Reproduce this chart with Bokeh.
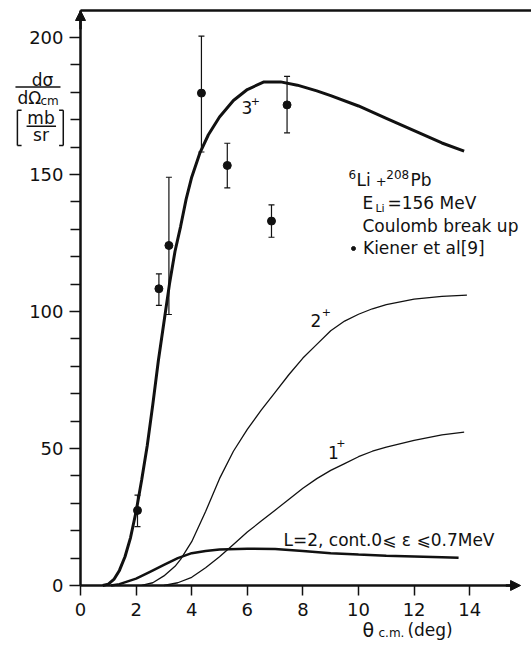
from bokeh.plotting import figure
from bokeh.models import (Range1d, FixedTicker, Label, Whisker, TeeHead, Arrow, LinearAxis,
                          NormalHead, ColumnDataSource, Legend, LegendItem)
from bokeh.embed import file_html
from bokeh.resources import INLINE

# ---------------- data ----------------
theta_3p = [0.8, 1.0, 1.2, 1.4, 1.6, 1.8, 2.0, 2.2, 2.4, 2.6, 2.8, 3.0, 3.2, 3.4, 3.6, 3.8,
            4.0, 4.3, 4.6, 5.0, 5.5, 6.0, 6.6, 7.2, 7.8, 8.5, 9.0, 10.0, 11.0, 12.0, 13.0, 13.8]
sigma_3p = [0.0, 0.5, 2.2, 5.5, 10.5, 17.5, 27.0, 38.5, 51.0, 66.0, 82.0, 96.0, 110.0, 122.0, 131.0, 141.0,
            149.0, 158.0, 164.5, 171.0, 177.0, 181.0, 183.8, 183.8, 182.6, 180.5, 178.8, 175.0, 170.5, 166.0, 161.5, 158.5]

theta_2p = [2.2, 2.6, 3.0, 3.4, 3.6, 4.0, 4.5, 5.0, 5.5, 6.0, 6.5, 7.0, 7.5, 8.0, 8.5, 9.0,
            9.5, 10.0, 10.5, 11.0, 12.0, 13.0, 13.9]
sigma_2p = [0.0, 1.0, 3.5, 7.0, 9.5, 16.0, 27.0, 39.0, 49.0, 57.0, 64.0, 70.5, 77.0, 83.0, 88.0, 93.0,
            96.5, 99.0, 101.0, 102.5, 104.5, 105.5, 106.0]

theta_1p = [3.0, 3.5, 4.0, 4.5, 5.0, 5.5, 6.0, 6.5, 7.0, 7.5, 8.0, 8.5, 9.0, 9.5, 10.0, 10.5,
            11.0, 12.0, 13.0, 13.8]
sigma_1p = [0.0, 1.0, 3.0, 6.5, 10.5, 15.0, 19.5, 23.5, 27.5, 31.5, 35.5, 39.0, 42.0, 44.5, 47.0, 49.0,
            50.5, 53.0, 55.0, 56.0]

theta_L2 = [1.1, 1.4, 2.0, 2.5, 3.0, 3.5, 4.0, 4.5, 5.0, 6.0, 7.0, 8.0, 9.0, 10.0, 11.0, 12.0, 13.0, 13.6]
sigma_L2 = [0.0, 0.5, 2.5, 5.0, 7.5, 10.0, 11.8, 12.6, 13.1, 13.4, 13.3, 12.6, 11.8, 11.3, 10.9, 10.6, 10.3, 10.1]

exp_theta = [2.05, 2.82, 3.18, 4.35, 5.28, 6.87, 7.43]
exp_sigma = [27.4, 108.3, 124.1, 179.7, 153.3, 133.0, 175.4]
exp_upper = [33.0, 113.7, 149.0, 200.5, 161.4, 138.9, 185.8]
exp_lower = [21.5, 102.2, 98.9, 158.2, 145.1, 127.1, 165.2]

x_ticks = [0, 2, 4, 6, 8, 10, 12, 14]
y_ticks = [0, 50, 100, 150, 200]
y_minor = [10, 20, 30, 40, 60, 70, 80, 90, 110, 120, 130, 140, 160, 170, 180, 190]

FONT = "DejaVu Sans"
INK = "#111111"
PX_PER_Y = 2.74  # screen pixels per y unit (used only to nudge text baselines)

# the frame covers the whole canvas; the axes are pinned at x=0 / y=0
p = figure(width=531, height=645, x_range=Range1d(-2.878, 16.223), y_range=Range1d(-21.9, 213.5),
           output_backend="svg", toolbar_location=None,
           min_border_left=0, min_border_right=0, min_border_top=0, min_border_bottom=0)
p.outline_line_color = None
p.xgrid.grid_line_color = None
p.ygrid.grid_line_color = None
p.background_fill_color = "white"
p.border_fill_color = "white"

for ax in (p.xaxis[0], p.yaxis[0]):
    ax.fixed_location = 0
    ax.axis_line_width = 2.5
    ax.axis_line_color = INK
    ax.major_tick_line_width = 1.5
    ax.minor_tick_line_width = 1.5
    ax.major_tick_line_color = INK
    ax.minor_tick_line_color = INK
    ax.major_tick_in = 0
    ax.minor_tick_in = 0
    ax.major_label_text_font = FONT
    ax.major_label_text_font_size = "18px"
    ax.major_label_text_color = INK

p.xaxis.bounds = (0, 15.6)
p.xaxis.ticker = FixedTicker(ticks=x_ticks, minor_ticks=[])
p.xaxis.major_tick_out = 10
p.xaxis.major_label_standoff = 8
p.yaxis.bounds = (0, 209.85)
p.yaxis.ticker = FixedTicker(ticks=y_ticks, minor_ticks=y_minor)
p.yaxis.major_tick_out = 11
p.yaxis.minor_tick_out = 10
p.yaxis.major_label_standoff = 6

# top frame line
top = LinearAxis(fixed_location=209.85, bounds=(0, 16.3), ticker=FixedTicker(ticks=[], minor_ticks=[]),
                 axis_line_width=2.5, axis_line_color=INK,
                 major_tick_line_color=None, minor_tick_line_color=None, major_label_text_color=None)
p.add_layout(top, "above")

# axis arrows
p.add_layout(Arrow(end=NormalHead(size=10, fill_color=INK, line_color=INK), line_color=INK, line_width=2.5,
                   x_start=0, y_start=203, x_end=0, y_end=209.85))
p.add_layout(Arrow(end=NormalHead(size=10, fill_color=INK, line_color=INK), line_color=INK, line_width=2.5,
                   x_start=15.3, y_start=0, x_end=15.83, y_end=0))

# curves
p.line(theta_3p, sigma_3p, line_color=INK, line_width=3.0)
p.line(theta_2p, sigma_2p, line_color=INK, line_width=1.3)
p.line(theta_1p, sigma_1p, line_color=INK, line_width=1.3)
p.line(theta_L2, sigma_L2, line_color=INK, line_width=2.5)

# experimental points
src = ColumnDataSource(dict(x=exp_theta, y=exp_sigma, upper=exp_upper, lower=exp_lower))
p.add_layout(Whisker(source=src, base="x", upper="upper", lower="lower", dimension="height",
                     line_color=INK, line_width=1.2,
                     upper_head=TeeHead(size=6, line_color=INK, line_width=1.2),
                     lower_head=TeeHead(size=6, line_color=INK, line_width=1.2)))
r_exp = p.scatter("x", "y", source=src, size=8, marker="circle", fill_color=INK, line_color=INK)

legend = Legend(items=[LegendItem(label="Kiener et al[9]", renderers=[r_exp])],
                location=(348, 387), padding=0, margin=0, border_line_color=None,
                background_fill_alpha=0, glyph_width=10, glyph_height=16, label_height=16,
                label_standoff=5, label_text_font=FONT, label_text_font_size="17px",
                label_text_color=INK)
p.add_layout(legend, "center")


def lab(x, y, text, size=17, align="left", nudge=True):
    dy = 0.33 * size / PX_PER_Y if nudge else 0.0
    p.add_layout(Label(x=x, y=y + dy, text=text, text_font=FONT, text_font_size=f"{size}px",
                       text_color=INK, text_align=align, text_baseline="alphabetic"))


# curve labels
lab(5.79, 172.3, "3")
lab(6.12, 175.5, "+", size=11)
lab(8.27, 94.5, "2")
lab(8.68, 98.5, "+", size=11)
lab(8.9, 46.4, "1")
lab(9.2, 50.5, "+", size=11)
lab(7.3, 14.6, "L=2, cont.0\u2a7d \u03b5 \u2a7d0.7MeV")

# reaction text
lab(9.64, 148.6, "6", size=12)
lab(9.93, 146.0, "Li")
lab(10.62, 146.0, "+", size=13)
lab(11.0, 148.6, "208", size=12)
lab(11.87, 146.0, "Pb")
lab(10.14, 137.6, "E")
lab(10.61, 136.3, "Li", size=11)
lab(11.04, 137.6, "=156 MeV")
lab(10.14, 129.0, "Coulomb break up")

# y-axis label (stacked fraction)
lab(-1.37, 182.6, "d\u03c3", align="center")
lab(-2.27, 176.0, "d\u03a9")
lab(-1.44, 175.2, "cm", size=12)
lab(-1.42, 168.7, "mb", align="center")
lab(-1.42, 162.4, "sr", align="center")


def seg(x0, y0, x1, y1, w=1.5):
    p.add_layout(Arrow(end=None, start=None, line_color=INK, line_width=w,
                       x_start=x0, y_start=y0, x_end=x1, y_end=y1))


seg(-2.34, 181.9, -0.72, 181.9)
seg(-1.94, 167.6, -0.88, 167.6)
seg(-2.27, 173.4, -2.27, 160.6)
seg(-2.27, 173.4, -2.12, 173.4)
seg(-2.27, 160.6, -2.12, 160.6)
seg(-0.62, 173.4, -0.62, 160.6)
seg(-0.62, 173.4, -0.77, 173.4)
seg(-0.62, 160.6, -0.77, 160.6)

# x-axis label
lab(10.14, -16.3, "\u03b8", size=19, nudge=False)
lab(10.72, -17.3, "c.m.", size=12, nudge=False)
lab(11.76, -16.3, "(deg)", nudge=False)

open("out.html", "w").write(file_html(p, INLINE))
